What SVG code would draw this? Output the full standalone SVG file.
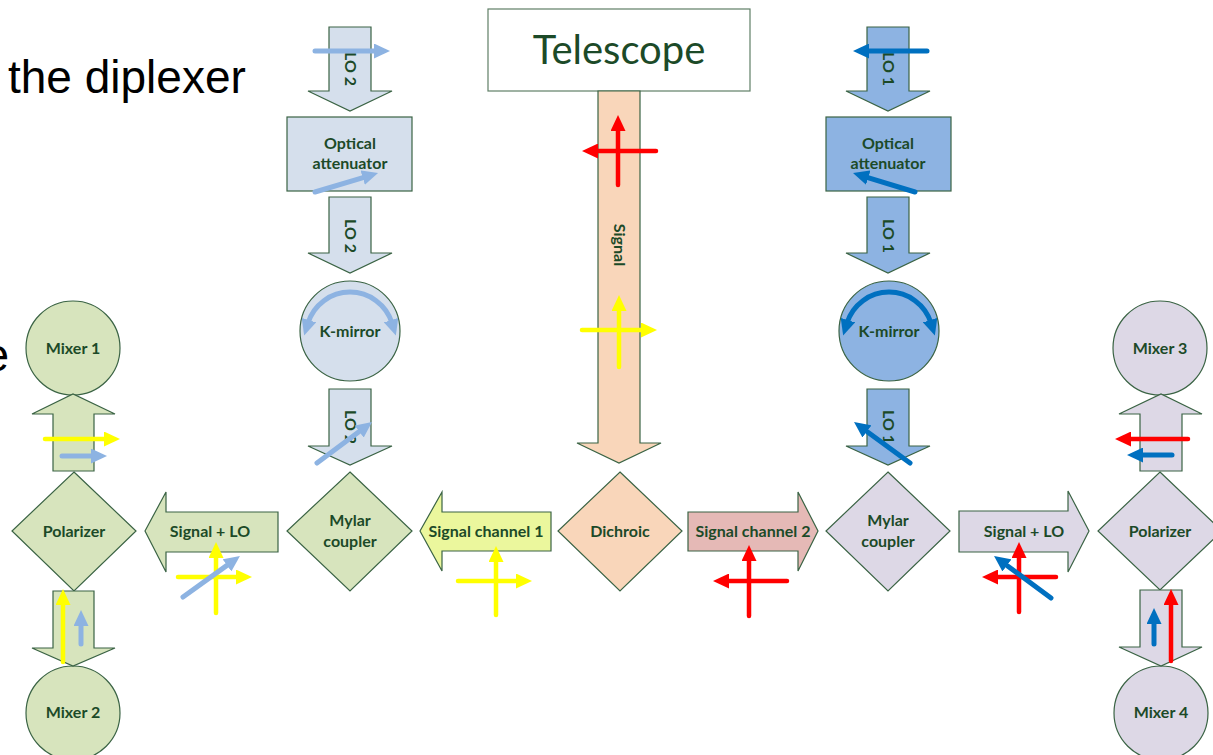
<svg xmlns="http://www.w3.org/2000/svg" width="1213" height="755" viewBox="0 0 1213 755">
<style>
.sh{stroke:#3a6344;stroke-width:1.2}
.g{fill:#d7e4bd}.lv{fill:#ddd8e6}.lb{fill:#d5dfec}.b{fill:#8db3e2}.pe{fill:#f9d6ba}.ye{fill:#ebf79d}.pk{fill:#e5b9b6}
.t{font-family:Lato,"Open Sans",sans-serif;font-weight:bold;font-size:16px;fill:#1c4a28;text-anchor:middle}
.pol{fill:none;stroke-width:4.5;stroke-linecap:round}
.r{stroke:#ff0000}.y{stroke:#ffff00}.l{stroke:#8db3e2;stroke-width:5}.d{stroke:#0070c0;stroke-width:5}
</style>
<defs>
<marker id="hr" markerUnits="userSpaceOnUse" markerWidth="16" markerHeight="15" refX="3" refY="7.5" orient="auto"><path d="M0,0 L16,7.5 L0,15 z" fill="#ff0000"/></marker>
<marker id="hy" markerUnits="userSpaceOnUse" markerWidth="16" markerHeight="15" refX="3" refY="7.5" orient="auto"><path d="M0,0 L16,7.5 L0,15 z" fill="#ffff00"/></marker>
<marker id="hl" markerUnits="userSpaceOnUse" markerWidth="16" markerHeight="15" refX="3" refY="7.5" orient="auto-start-reverse"><path d="M0,0 L16,7.5 L0,15 z" fill="#8db3e2"/></marker>
<marker id="hd" markerUnits="userSpaceOnUse" markerWidth="16" markerHeight="15" refX="3" refY="7.5" orient="auto-start-reverse"><path d="M0,0 L16,7.5 L0,15 z" fill="#0070c0"/></marker>
</defs>
<rect width="1213" height="755" fill="#ffffff"/>

<text x="8" y="93" font-family="Liberation Sans, Arial, sans-serif" font-size="46" fill="#000">the diplexer</text>
<text x="9" y="371" font-family="Liberation Sans, Arial, sans-serif" font-size="46" fill="#000" text-anchor="end">e</text>

<g id="telescope"><rect x="488" y="9" width="262" height="82" fill="#ffffff" stroke="#5f7f66" stroke-width="1.2"/><text x="619" y="64" font-family="Lato,'Open Sans',sans-serif" font-size="40" fill="#1c4a28" text-anchor="middle">Telescope</text></g>

<g id="attenuator2"><rect class="sh lb" x="287" y="117" width="125" height="74"/><text class="t" x="350" y="149">Optical</text><text class="t" x="350" y="169">attenuator</text></g>
<g id="kmirror2"><circle class="sh lb" cx="350" cy="331" r="50"/><text class="t" x="350" y="337">K-mirror</text></g>
<g id="mylar1"><polygon class="sh g" points="350,472 412,531 350,591 287,531"/><text class="t" x="350" y="526">Mylar</text><text class="t" x="350" y="547">coupler</text></g>
<g id="dichroic"><polygon class="sh pe" points="620,472 682,531 620,591 558,531"/><text class="t" x="620" y="537">Dichroic</text></g>
<g id="attenuator1"><rect class="sh b" x="826" y="117" width="125" height="74"/><text class="t" x="888" y="149">Optical</text><text class="t" x="888" y="169">attenuator</text></g>
<g id="kmirror1"><circle class="sh b" cx="889" cy="331" r="50"/><text class="t" x="889" y="337">K-mirror</text></g>
<g id="mylar2"><polygon class="sh lv" points="888,472 950,531 888,591 826,531"/><text class="t" x="888" y="526">Mylar</text><text class="t" x="888" y="547">coupler</text></g>
<g id="polarizer1"><polygon class="sh g" points="74,472 136,531 74,591 12,531"/><text class="t" x="74" y="537">Polarizer</text></g>
<g id="mixer1"><circle class="sh g" cx="73" cy="348" r="47"/><text class="t" x="73" y="354">Mixer 1</text></g>
<g id="mixer2"><circle class="sh g" cx="73" cy="713" r="47"/><text class="t" x="73" y="718">Mixer 2</text></g>
<g id="polarizer2"><polygon class="sh lv" points="1160,472 1222,531 1160,590 1098,531"/><text class="t" x="1160" y="537">Polarizer</text></g>
<g id="mixer3"><circle class="sh lv" cx="1160" cy="348" r="47"/><text class="t" x="1160" y="354">Mixer 3</text></g>
<g id="mixer4"><circle class="sh lv" cx="1161" cy="713" r="47"/><text class="t" x="1161" y="718">Mixer 4</text></g>

<g id="connectors">
<g><polygon class="sh pe" points="598,91 640,91 640,443 661,443 619,463 577,443 598,443"/><text class="t" transform="translate(619,245) rotate(90)" y="5.5">Signal</text></g>
<g><polygon class="sh lb" points="329,27 371,27 371,91 392,91 350,111 308,91 329,91"/><text class="t" transform="translate(350,69) rotate(90)" y="5.5">LO 2</text></g>
<g><polygon class="sh lb" points="329,197 371,197 371,253 392,253 350,273 308,253 329,253"/><text class="t" transform="translate(350,236) rotate(90)" y="5.5">LO 2</text></g>
<g><polygon class="sh lb" points="329,389 371,389 371,446 392,446 350,465 308,446 329,446"/><text class="t" transform="translate(350,427) rotate(90)" y="5.5">LO 2</text></g>
<g><polygon class="sh b" points="867,27 909,27 909,91 930,91 888,111 846,91 867,91"/><text class="t" transform="translate(888,69) rotate(90)" y="5.5">LO 1</text></g>
<g><polygon class="sh b" points="867,197 909,197 909,253 930,253 888,273 846,253 867,253"/><text class="t" transform="translate(888,236) rotate(90)" y="5.5">LO 1</text></g>
<g><polygon class="sh b" points="867,389 909,389 909,446 930,446 888,465 846,446 867,446"/><text class="t" transform="translate(888,427) rotate(90)" y="5.5">LO 1</text></g>
<g><polygon class="sh g" points="145,531 166,492 166,512 278,512 278,552 166,552 166,572"/><text class="t" x="210" y="537">Signal + LO</text></g>
<g><polygon class="sh ye" points="420,531 442,492 442,512 551,512 551,551 442,551 442,571"/><text class="t" x="486" y="537">Signal channel 1</text></g>
<g><polygon class="sh pk" points="688,512 798,512 798,492 818,531 798,571 798,551 688,551"/><text class="t" x="753" y="537">Signal channel 2</text></g>
<g><polygon class="sh lv" points="959,511 1068,511 1068,491 1089,531 1068,572 1068,552 959,552"/><text class="t" x="1024" y="537">Signal + LO</text></g>
<polygon class="sh g" points="53,471 94,471 94,414 115,414 73,394 32,414 53,414"/>
<polygon class="sh g" points="53,591 94,591 94,648 115,648 73,666 32,648 53,648"/>
<polygon class="sh lv" points="1140,471 1182,471 1182,414 1202,414 1161,394 1119,414 1140,414"/>
<polygon class="sh lv" points="1140,590 1182,590 1182,647 1202,647 1161,666 1119,647 1140,647"/>
</g>

<g id="polarization">
<path class="pol l" d="M315,51 L377,51" marker-end="url(#hl)"/>
<path class="pol l" d="M315,192 L365.6,176.8" marker-end="url(#hl)"/>
<path class="pol l" stroke-width="6" d="M308,323 A44,44 0 0 1 392,323" marker-start="url(#hl)" marker-end="url(#hl)"/>
<path class="pol l" d="M317,463 L361.6,429.8" marker-end="url(#hl)"/>
<path class="pol d" d="M927,51 L866,51" marker-end="url(#hd)"/>
<path class="pol d" d="M915,192 L865.4,176.8" marker-end="url(#hd)"/>
<path class="pol d" stroke-width="6" d="M847,323 A44,44 0 0 1 931,323" marker-start="url(#hd)" marker-end="url(#hd)"/>
<path class="pol d" d="M910,463 L864.5,429.7" marker-end="url(#hd)"/>
<path class="pol r" d="M618,185 L618,128" marker-end="url(#hr)"/>
<path class="pol r" d="M656,151 L595,151" marker-end="url(#hr)"/>
<path class="pol y" d="M619,367 L619,308" marker-end="url(#hy)"/>
<path class="pol y" d="M582,330 L644,330" marker-end="url(#hy)"/>
<path class="pol y" d="M496,615 L496,559" marker-end="url(#hy)"/>
<path class="pol y" d="M458,581 L519,581" marker-end="url(#hy)"/>
<path class="pol r" d="M749,616 L749,558" marker-end="url(#hr)"/>
<path class="pol r" d="M787,581 L726,581" marker-end="url(#hr)"/>
<path class="pol y" d="M216,613 L216,555" marker-end="url(#hy)"/>
<path class="pol y" d="M178,577 L239,577" marker-end="url(#hy)"/>
<path class="pol l" d="M183,597 L229.4,563.6" marker-end="url(#hl)"/>
<path class="pol r" d="M1019,612 L1019,555" marker-end="url(#hr)"/>
<path class="pol r" d="M1056,577 L995,577" marker-end="url(#hr)"/>
<path class="pol d" d="M1051,598 L1004.5,563.7" marker-end="url(#hd)"/>
<path class="pol y" d="M45,439 L107,439" marker-end="url(#hy)"/>
<path class="pol l" d="M62,456 L94,456" marker-end="url(#hl)"/>
<path class="pol y" d="M63,662 L63,602" marker-end="url(#hy)"/>
<path class="pol l" d="M81,644 L81,623" marker-end="url(#hl)"/>
<path class="pol r" d="M1188,439 L1128,439" marker-end="url(#hr)"/>
<path class="pol d" d="M1172,455 L1140,455" marker-end="url(#hd)"/>
<path class="pol d" d="M1154,644 L1154,621" marker-end="url(#hd)"/>
<path class="pol r" d="M1171,661 L1171,602" marker-end="url(#hr)"/>
</g>
</svg>
